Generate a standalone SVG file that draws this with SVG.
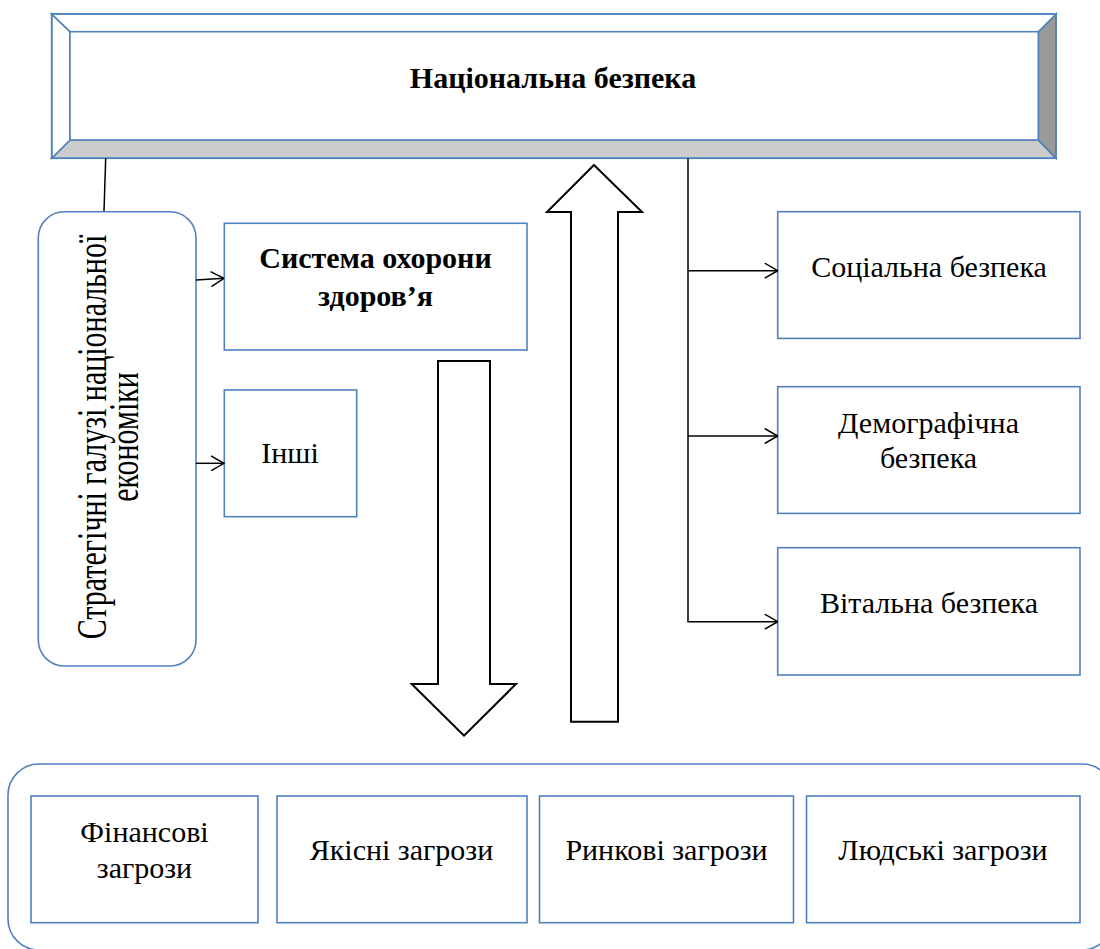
<svg xmlns="http://www.w3.org/2000/svg" width="1100" height="949" viewBox="0 0 1100 949">
<style>
.box{fill:#fff;stroke:#4f81bd;stroke-width:1.6}
.bev{stroke:#4f81bd;stroke-width:1.6}
.ln{fill:none;stroke:#000;stroke-width:1.5}
.blk{fill:#fff;stroke:#000;stroke-width:2;stroke-linejoin:miter}
.t{font-family:'Liberation Serif','Times New Roman',serif;font-size:30px;fill:#000;text-anchor:middle}
.b{font-weight:bold}
</style>
<defs>
<marker id="ah" viewBox="0 0 14 16" refX="13.5" refY="8" markerWidth="14" markerHeight="16" markerUnits="userSpaceOnUse" orient="auto">
<path d="M0.5,0.5 L13.5,8 L0.5,15.5" fill="none" stroke="#000" stroke-width="1.5"/>
</marker>
</defs>
<rect width="1100" height="949" fill="#fff"/>

<g id="threats-container">
<rect class="box" x="8" y="764" width="1105" height="186" rx="31" ry="31"/>
</g>

<g id="national-security">
<rect x="51.7" y="14" width="1004.3" height="144.3" fill="#fff"/>
<polygon class="bev" points="51.7,158.3 70,140 1038.3,140 1056,158.3" fill="#cccccc"/>
<polygon class="bev" points="1056,14 1038.3,31.7 1038.3,140 1056,158.3" fill="#999999"/>
<polygon class="bev" points="51.7,14 70,31.7 70,140 51.7,158.3" fill="#fff"/>
<polygon class="bev" points="51.7,14 1056,14 1038.3,31.7 70,31.7" fill="#fff"/>
<rect class="bev" x="70" y="31.7" width="968.3" height="108.3" fill="#fff"/>
<rect class="bev" x="51.7" y="14" width="1004.3" height="144.3" fill="none"/>
<text class="t b" x="553" y="88">Національна безпека</text>
</g>

<g id="strategic-branches">
<rect class="box" x="38.3" y="211.7" width="157.7" height="454.3" rx="26" ry="26"/>
<g transform="translate(106,437) rotate(-90) scale(1,1.4)">
<text class="t" x="0" y="0">Стратегічні галузі національної</text>
<text class="t" x="0" y="22.5">економіки</text>
</g>
</g>

<g id="health-system">
<rect class="box" x="224.3" y="223.3" width="302.7" height="126.7"/>
<text class="t b" x="375.5" y="268.3">Система охорони</text>
<text class="t b" x="375.5" y="306">здоров’я</text>
</g>

<g id="others">
<rect class="box" x="224.3" y="390" width="132.4" height="126.7"/>
<text class="t" x="290" y="463">Інші</text>
</g>

<g id="social-security">
<rect class="box" x="777.7" y="211.7" width="302.3" height="126.7"/>
<text class="t" x="929" y="277">Соціальна безпека</text>
</g>

<g id="demographic-security">
<rect class="box" x="777.7" y="386.7" width="302.3" height="126.7"/>
<text class="t" x="928.5" y="433">Демографічна</text>
<text class="t" x="928.5" y="468">безпека</text>
</g>

<g id="vital-security">
<rect class="box" x="777.7" y="547.7" width="302.3" height="127.3"/>
<text class="t" x="929" y="613">Вітальна безпека</text>
</g>

<g id="financial-threats">
<rect class="box" x="31" y="796" width="227" height="126.7"/>
<text class="t" x="144.5" y="841.7">Фінансові</text>
<text class="t" x="144.5" y="878.3">загрози</text>
</g>

<g id="quality-threats">
<rect class="box" x="277" y="796" width="250" height="126.7"/>
<text class="t" x="401.5" y="860">Якісні загрози</text>
</g>

<g id="market-threats">
<rect class="box" x="539.5" y="796" width="254" height="126.7"/>
<text class="t" x="666.5" y="860">Ринкові загрози</text>
</g>

<g id="human-threats">
<rect class="box" x="806.5" y="796" width="273.5" height="126.7"/>
<text class="t" x="943" y="860">Людські загрози</text>
</g>

<g id="connectors">
<line class="ln" x1="105.7" y1="158.3" x2="104" y2="211"/>
<line class="ln" x1="196" y1="280" x2="224" y2="278.3" marker-end="url(#ah)"/>
<line class="ln" x1="196" y1="463.3" x2="224" y2="463.3" marker-end="url(#ah)"/>
<polyline class="ln" points="688,158.3 688,621.7 777.7,621.7" marker-end="url(#ah)"/>
<line class="ln" x1="688" y1="270.7" x2="777.7" y2="270.7" marker-end="url(#ah)"/>
<line class="ln" x1="688" y1="436" x2="777.7" y2="436" marker-end="url(#ah)"/>
<polygon class="blk" points="594,165 642,212 618,212 618,721.7 571,721.7 571,212 547,212"/>
<polygon class="blk" points="438,361 490,361 490,684 516,684 464,735.7 411.7,684 438,684"/>
</g>
</svg>
